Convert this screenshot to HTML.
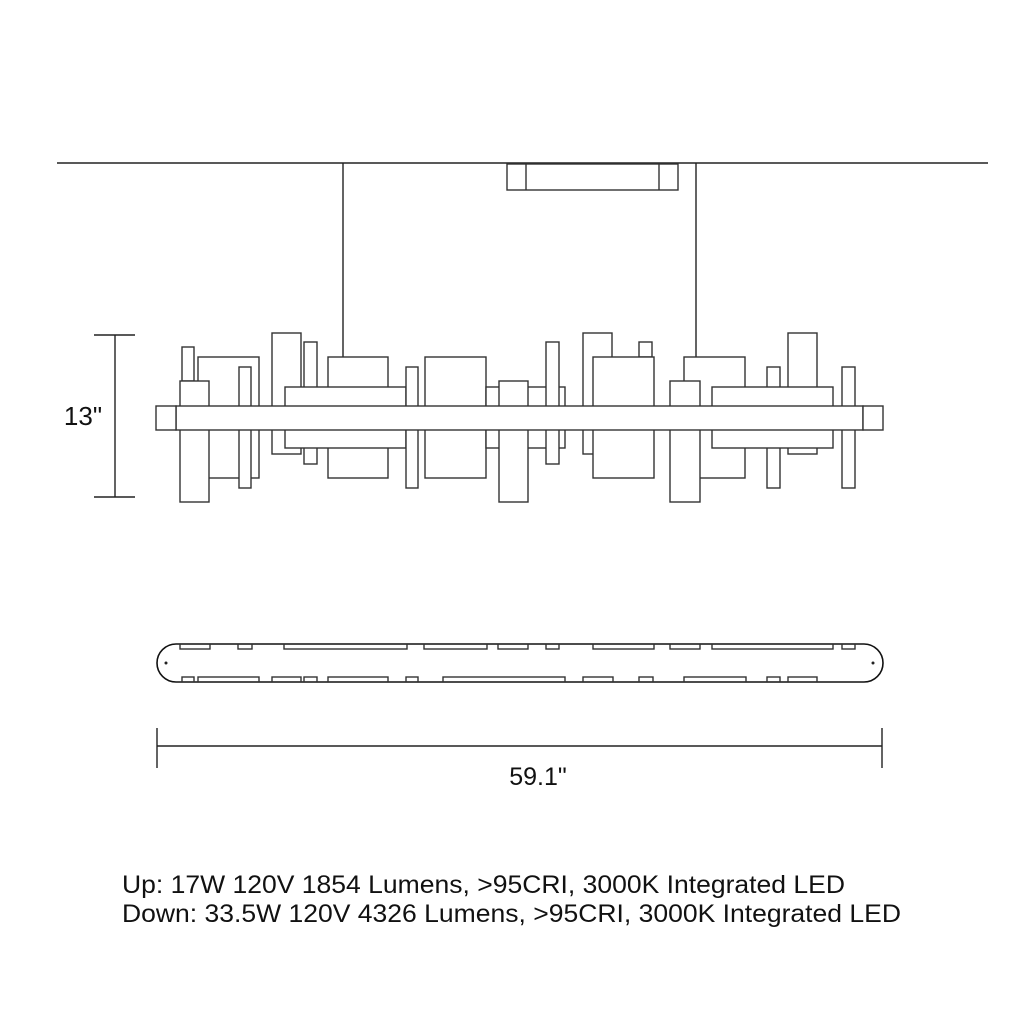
<!DOCTYPE html>
<html><head><meta charset="utf-8"><style>
html,body{margin:0;padding:0;background:#fff}
svg{display:block}
text{font-family:"Liberation Sans",Arial,sans-serif;fill:#111}
</style></head><body>
<svg width="1024" height="1024" viewBox="0 0 1024 1024" xmlns="http://www.w3.org/2000/svg">
<rect width="1024" height="1024" fill="#fff"/>
<g stroke="#333" stroke-width="1.4" fill="#fff">
<line x1="57" y1="163" x2="988" y2="163" stroke="#222"/>
<rect x="507" y="164" width="171" height="26"/>
<line x1="526" y1="164" x2="526" y2="190"/>
<line x1="659" y1="164" x2="659" y2="190"/>
<line x1="343" y1="163" x2="343" y2="387" stroke="#222"/>
<line x1="696" y1="163" x2="696" y2="381" stroke="#222"/>
<rect x="198" y="357" width="61" height="121"/>
<rect x="182" y="347" width="12" height="34"/>
<rect x="180" y="381" width="29" height="121"/>
<rect x="239" y="367" width="12" height="121"/>
<rect x="272" y="333" width="29" height="121"/>
<rect x="304" y="342" width="13" height="122"/>
<rect x="328" y="357" width="60" height="121"/>
<rect x="285" y="387" width="121" height="61"/>
<rect x="406" y="367" width="12" height="121"/>
<rect x="425" y="357" width="61" height="121"/>
<rect x="486" y="387" width="79" height="61"/>
<rect x="499" y="381" width="29" height="121"/>
<rect x="546" y="342" width="13" height="122"/>
<rect x="583" y="333" width="29" height="121"/>
<rect x="639" y="342" width="13" height="15"/>
<rect x="593" y="357" width="61" height="121"/>
<rect x="684" y="357" width="61" height="121"/>
<rect x="670" y="381" width="30" height="121"/>
<rect x="767" y="367" width="13" height="121"/>
<rect x="788" y="333" width="29" height="121"/>
<rect x="712" y="387" width="121" height="61"/>
<rect x="842" y="367" width="13" height="121"/>
<rect x="176" y="406" width="687" height="24"/>
<rect x="156" y="406" width="20" height="24"/>
<rect x="863" y="406" width="20" height="24"/>
<line x1="115" y1="335" x2="115" y2="497" stroke="#222"/>
<line x1="94" y1="335" x2="135" y2="335" stroke="#222"/>
<line x1="94" y1="497" x2="135" y2="497" stroke="#222"/>
<path d="M176 644 H864 A19 19 0 0 1 864 682 H176 A19 19 0 0 1 176 644 Z" stroke="#111" stroke-width="1.6"/>
<g fill="none">
<rect x="180" y="644" width="30" height="5"/>
<rect x="238" y="644" width="14" height="5"/>
<rect x="284" y="644" width="123" height="5"/>
<rect x="424" y="644" width="63" height="5"/>
<rect x="498" y="644" width="30" height="5"/>
<rect x="546" y="644" width="13" height="5"/>
<rect x="593" y="644" width="61" height="5"/>
<rect x="670" y="644" width="30" height="5"/>
<rect x="712" y="644" width="121" height="5"/>
<rect x="842" y="644" width="13" height="5"/>
<rect x="182" y="677" width="12" height="5"/>
<rect x="198" y="677" width="61" height="5"/>
<rect x="272" y="677" width="29" height="5"/>
<rect x="304" y="677" width="13" height="5"/>
<rect x="328" y="677" width="60" height="5"/>
<rect x="406" y="677" width="12" height="5"/>
<rect x="443" y="677" width="122" height="5"/>
<rect x="583" y="677" width="30" height="5"/>
<rect x="639" y="677" width="14" height="5"/>
<rect x="684" y="677" width="62" height="5"/>
<rect x="767" y="677" width="13" height="5"/>
<rect x="788" y="677" width="29" height="5"/>
</g>
<line x1="157" y1="746" x2="882" y2="746" stroke="#222"/>
<line x1="157" y1="728" x2="157" y2="768" stroke="#222"/>
<line x1="882" y1="728" x2="882" y2="768" stroke="#222"/>
</g>
<circle cx="166" cy="663" r="1.5" fill="#222"/>
<circle cx="873" cy="663" r="1.5" fill="#222"/>
<text x="83" y="425" font-size="26" text-anchor="middle">13"</text>
<text x="538" y="785" font-size="25" text-anchor="middle">59.1"</text>
<text x="122" y="893" font-size="25" textLength="723" lengthAdjust="spacingAndGlyphs">Up: 17W 120V 1854 Lumens, &gt;95CRI, 3000K Integrated LED</text>
<text x="122" y="922" font-size="25" textLength="779" lengthAdjust="spacingAndGlyphs">Down: 33.5W 120V 4326 Lumens, &gt;95CRI, 3000K Integrated LED</text>
</svg>
</body></html>
